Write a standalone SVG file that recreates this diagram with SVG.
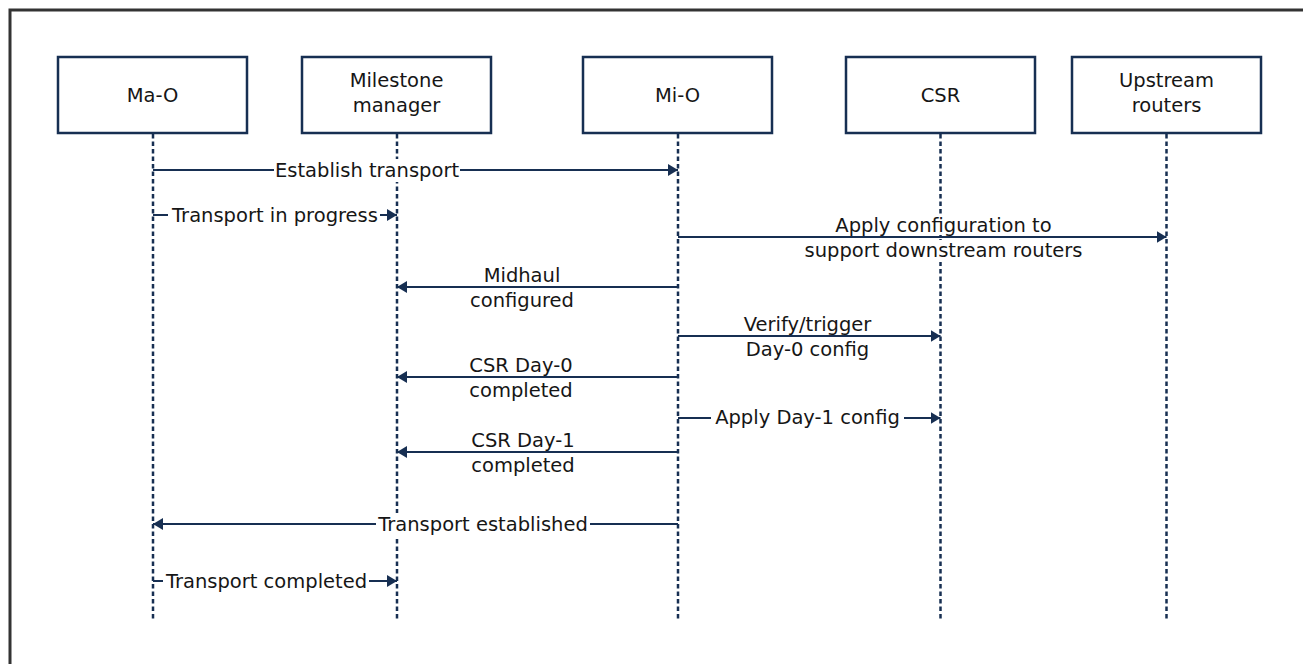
<svg xmlns="http://www.w3.org/2000/svg" width="1303" height="664" viewBox="0 0 1303 664">
  <style>
    .frame { fill: #ffffff; stroke: #333333; stroke-width: 3; }
    .box { fill: #ffffff; stroke: #172f52; stroke-width: 2.5; }
    .life { stroke: #172f52; stroke-width: 2.5; stroke-dasharray: 4.5 3; fill: none; }
    .msg { stroke: #172f52; stroke-width: 2.2; fill: none; }
    .bg { fill: #ffffff; stroke: none; }
    text { font-family: "DejaVu Sans", "Liberation Sans", sans-serif; font-size: 19.5px; fill: #161616; text-anchor: middle; }
  </style>
  <defs>
    <marker id="ah" viewBox="0 0 10 12" refX="10" refY="6" markerWidth="10" markerHeight="12" markerUnits="userSpaceOnUse" orient="auto">
      <path d="M0,0 L10,6 L0,12 Z" fill="#172f52"/>
    </marker>
  </defs>

  <rect class="frame" x="10" y="10" width="1300" height="664"/>

  <g id="node-mao">
    <line class="life" x1="153" y1="134" x2="153" y2="621"/>
    <rect class="box" x="58" y="57" width="189" height="76"/>
    <text x="152.5" y="102">Ma-O</text>
  </g>
  <g id="node-milestone">
    <line class="life" x1="397" y1="134" x2="397" y2="621"/>
    <rect class="box" x="302" y="57" width="189" height="76"/>
    <text x="396.5" y="87">Milestone</text>
    <text x="396.5" y="112">manager</text>
  </g>
  <g id="node-mio">
    <line class="life" x1="678" y1="134" x2="678" y2="621"/>
    <rect class="box" x="583" y="57" width="189" height="76"/>
    <text x="677.5" y="102">Mi-O</text>
  </g>
  <g id="node-csr">
    <line class="life" x1="940.5" y1="134" x2="940.5" y2="621"/>
    <rect class="box" x="846" y="57" width="189" height="76"/>
    <text x="940.5" y="102">CSR</text>
  </g>
  <g id="node-upstream">
    <line class="life" x1="1166.5" y1="134" x2="1166.5" y2="621"/>
    <rect class="box" x="1072" y="57" width="189" height="76"/>
    <text x="1166.5" y="87">Upstream</text>
    <text x="1166.5" y="112">routers</text>
  </g>

  <g id="connectors">
    <!-- backgrounds of two-line labels -->
    <rect class="bg" x="833" y="216" width="222" height="19"/>
    <rect class="bg" x="802" y="240" width="286" height="22"/>

    <line class="msg" x1="153" y1="170" x2="678" y2="170" marker-end="url(#ah)"/>
    <line class="msg" x1="153" y1="215" x2="397" y2="215" marker-end="url(#ah)"/>
    <line class="msg" x1="678" y1="237" x2="1166.5" y2="237" marker-end="url(#ah)"/>
    <line class="msg" x1="678" y1="287" x2="397" y2="287" marker-end="url(#ah)"/>
    <line class="msg" x1="678" y1="336" x2="940.5" y2="336" marker-end="url(#ah)"/>
    <line class="msg" x1="678" y1="377" x2="397" y2="377" marker-end="url(#ah)"/>
    <line class="msg" x1="678" y1="418" x2="940.5" y2="418" marker-end="url(#ah)"/>
    <line class="msg" x1="678" y1="452" x2="397" y2="452" marker-end="url(#ah)"/>
    <line class="msg" x1="678" y1="524" x2="153" y2="524" marker-end="url(#ah)"/>
    <line class="msg" x1="153" y1="581" x2="397" y2="581" marker-end="url(#ah)"/>

    <!-- inline label backgrounds -->
    <rect class="bg" x="274" y="159" width="186" height="23"/>
    <rect class="bg" x="168" y="204" width="212" height="23"/>
    <rect class="bg" x="711" y="407" width="193" height="23"/>
    <rect class="bg" x="376" y="513" width="214" height="23"/>
    <rect class="bg" x="163" y="570" width="206" height="23"/>

    <text x="367" y="177">Establish transport</text>
    <text x="275" y="222">Transport in progress</text>
    <text x="943.5" y="232">Apply configuration to</text>
    <text x="943.5" y="257">support downstream routers</text>
    <text x="522" y="282">Midhaul</text>
    <text x="522" y="307">configured</text>
    <text x="807.5" y="331">Verify/trigger</text>
    <text x="807.5" y="356">Day-0 config</text>
    <text x="521" y="372">CSR Day-0</text>
    <text x="521" y="397">completed</text>
    <text x="807.5" y="424">Apply Day-1 config</text>
    <text x="523" y="447">CSR Day-1</text>
    <text x="523" y="472">completed</text>
    <text x="483" y="531">Transport established</text>
    <text x="266.5" y="588">Transport completed</text>
  </g>
</svg>
